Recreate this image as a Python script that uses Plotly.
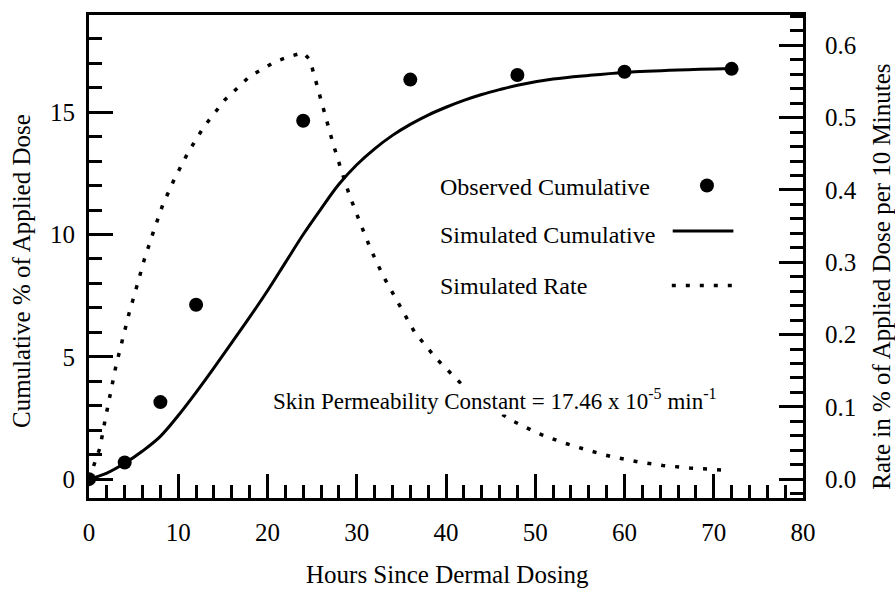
import plotly.graph_objects as go

# Observed cumulative absorption (% of applied dose)
obs_hours = [0, 4, 8, 12, 24, 36, 48, 60, 72]
obs_cum = [0.0, 0.68, 3.15, 7.13, 14.65, 16.33, 16.52, 16.65, 16.77]

# Simulated cumulative absorption (% of applied dose)
sim_hours = [0, 2, 4, 6, 8, 10, 12, 14, 16, 18, 20, 22, 24, 26, 28, 30, 32, 34, 36,
             38, 40, 42, 44, 46, 48, 52, 56, 60, 66, 72]
sim_cum = [0.0, 0.25, 0.65, 1.15, 1.75, 2.6, 3.55, 4.55, 5.58, 6.62, 7.7, 8.85, 10.0,
           11.05, 12.05, 12.85, 13.5, 14.05, 14.5, 14.88, 15.2, 15.48, 15.72, 15.92, 16.1,
           16.35, 16.5, 16.62, 16.72, 16.78]

# Simulated absorption rate (% of applied dose per 10 minutes)
rate_hours = [0, 0.67, 1.23, 1.79, 2.35, 2.99, 3.73, 4.48, 5.34, 6.2, 7.21, 8.25, 9.56,
              11.06, 12.85, 15.24, 18.0, 20.8, 22.3, 24.0, 24.76, 25.6, 26.4, 27.3, 28.2,
              29.2, 30.4, 31.6, 33.0, 34.85, 36.5, 38.9, 41.7, 44.5, 47.4, 50.2, 53.0,
              55.9, 58.6, 61.5, 64.3, 67.3, 70.1, 71.6]
rate_pct = [0.0, 0.023, 0.0435, 0.081, 0.118, 0.155, 0.192, 0.229, 0.266, 0.304, 0.342,
            0.379, 0.415, 0.451, 0.487, 0.525, 0.557, 0.577, 0.584, 0.59, 0.58, 0.543,
            0.504, 0.466, 0.43, 0.392, 0.354, 0.317, 0.28, 0.24, 0.203, 0.167, 0.132,
            0.104, 0.081, 0.064, 0.051, 0.040, 0.031, 0.024, 0.019, 0.0155, 0.0128, 0.0123]

FONT = "Liberation Serif"
BLACK = "black"

fig = go.Figure()

fig.add_trace(go.Scatter(
    x=rate_hours, y=rate_pct, yaxis="y2", mode="lines",
    line=dict(color=BLACK, width=3.5, dash="4px,10px"), showlegend=False))

fig.add_trace(go.Scatter(
    x=sim_hours, y=sim_cum, mode="lines",
    line=dict(color=BLACK, width=3, shape="spline", smoothing=1.0), showlegend=False))

fig.add_trace(go.Scatter(
    x=obs_hours, y=obs_cum, mode="markers",
    marker=dict(size=14, color=BLACK), showlegend=False))

axis_common = dict(
    ticks="inside", tickcolor=BLACK, tickwidth=2.5, ticklen=24,
    showline=True, linecolor=BLACK, linewidth=3,
    showgrid=False, zeroline=False,
    tickfont=dict(family=FONT, size=25, color=BLACK),
)

fig.update_layout(
    width=895, height=594,
    margin=dict(l=89, r=92, t=12, b=96),
    paper_bgcolor="white", plot_bgcolor="white",
    font=dict(family=FONT, color=BLACK),
    xaxis=dict(
        range=[0, 80], dtick=10, tick0=0, mirror=True, ticklabelstandoff=10,
        minor=dict(dtick=2, tick0=0, ticks="inside", ticklen=13, tickwidth=2.5,
                   tickcolor=BLACK, showgrid=False),
        **axis_common),
    yaxis=dict(
        range=[-0.77, 18.97], tickvals=[0, 5, 10, 15], ticklabelstandoff=6,
        minor=dict(dtick=1, tick0=0, ticks="inside", ticklen=13, tickwidth=2.5,
                   tickcolor=BLACK, showgrid=False),
        **axis_common),
    yaxis2=dict(
        range=[-0.026, 0.642], dtick=0.1, tick0=0, tickformat=".1f",
        overlaying="y", side="right", ticklabelstandoff=14,
        minor=dict(dtick=0.02, tick0=0, ticks="inside", ticklen=13, tickwidth=2.5,
                   tickcolor=BLACK, showgrid=False),
        **axis_common),
)

title_font = dict(family=FONT, size=25, color=BLACK)
annotations = [
    dict(text="Hours Since Dermal Dosing", xref="paper", yref="paper",
         x=0.502, y=-0.158, showarrow=False, font=title_font,
         xanchor="center", yanchor="middle"),
    dict(text="Cumulative % of Applied Dose", xref="paper", yref="paper",
         x=-0.0938, y=0.47, textangle=-90, showarrow=False, font=title_font,
         xanchor="center", yanchor="middle"),
    dict(text="Rate in % of Applied Dose per 10 Minutes", xref="paper", yref="paper",
         x=1.1106, y=0.458, textangle=-90, showarrow=False, font=title_font,
         xanchor="center", yanchor="middle"),
    dict(text="Skin Permeability Constant = 17.46 x 10<sup>-5</sup> min<sup>-1</sup>",
         xref="x", yref="y", x=20.5, y=3.25, showarrow=False,
         font=dict(family=FONT, size=23, color=BLACK),
         xanchor="left", yanchor="middle", bgcolor="white", borderpad=0),
]

legend_font = dict(family=FONT, size=24, color=BLACK)
for label, yv in [("Observed Cumulative", 11.93),
                  ("Simulated Cumulative", 9.98),
                  ("Simulated Rate", 7.91)]:
    annotations.append(dict(text=label, xref="x", yref="y", x=39.1, y=yv,
                            showarrow=False, font=legend_font,
                            xanchor="left", yanchor="middle"))

fig.update_layout(annotations=annotations)

# Legend keys drawn to the right of their labels
fig.add_shape(type="circle", xref="x", yref="y", xsizemode="pixel", ysizemode="pixel",
              xanchor=69.24, yanchor=12.0, x0=-7, x1=7, y0=-7, y1=7,
              fillcolor=BLACK, line=dict(color=BLACK, width=0))
fig.add_shape(type="line", xref="x", yref="y", x0=65.4, x1=72.2, y0=10.14, y1=10.14,
              line=dict(color=BLACK, width=3))
fig.add_shape(type="line", xref="x", yref="y", x0=65.3, x1=72.2, y0=7.91, y1=7.91,
              line=dict(color=BLACK, width=3.5, dash="4px,10px"))

fig.write_html("out.html")
